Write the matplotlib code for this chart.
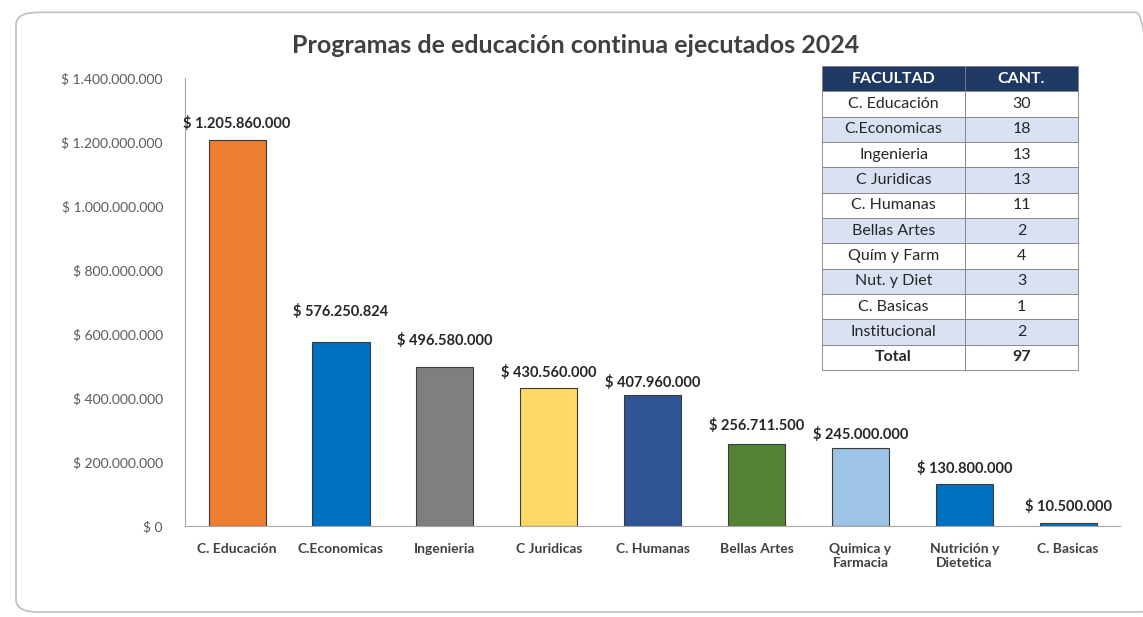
import matplotlib
matplotlib.use("Agg")
import matplotlib.pyplot as plt
from matplotlib.patches import FancyBboxPatch
from matplotlib.ticker import FuncFormatter

plt.rcParams['font.family'] = ['Lato', 'DejaVu Sans']

# datos del grafico
facultades = ["C. Educación", "C.Economicas", "Ingenieria", "C Juridicas", "C. Humanas",
              "Bellas Artes", "Quimica y\nFarmacia", "Nutrición y\nDietetica", "C. Basicas"]
valores = [1205860000, 576250824, 496580000, 430560000, 407960000,
           256711500, 245000000, 130800000, 10500000]
colores = ["#ED7D31", "#0070C0", "#7F7F7F", "#FFD966", "#2F5597",
           "#548235", "#9DC3E6", "#0070C0", "#0070C0"]

# tabla
tabla_fac = ["C. Educación", "C.Economicas", "Ingenieria", "C Juridicas", "C. Humanas",
             "Bellas Artes", "Quím y Farm", "Nut. y Diet", "C. Basicas", "Institucional", "Total"]
tabla_cant = [30, 18, 13, 13, 11, 2, 4, 3, 1, 2, 97]

# separacion de cada etiqueta sobre su barra (puntos), puestas a mano en el original
sep_etiq = [12, 21.5, 19, 11, 9.5, 13, 9.5, 11.5, 11.5]


def pesos(v):
    return "$ " + "{:,.0f}".format(v).replace(",", ".")


fig = plt.figure(figsize=(11.43, 6.17), dpi=100)
fig.patch.set_facecolor("white")

# marco redondeado tipo excel
marco = FancyBboxPatch((0.014, 0.008), 1.0, 0.972, boxstyle="round,pad=0,rounding_size=0.02",
                       transform=fig.transFigure, facecolor="none", edgecolor="#BFBFBF", lw=1.2)
fig.patches.append(marco)

ax = fig.add_axes([0.162, 0.1475, 0.818, 0.726])
x = range(len(facultades))
bars = ax.bar(x, valores, width=0.55, color=colores, edgecolor="#3A3A3A", linewidth=0.8)

for b, v, s in zip(bars, valores, sep_etiq):
    ax.annotate(pesos(v), (b.get_x() + b.get_width() / 2, v), xytext=(0, s),
                textcoords="offset points", ha="center", va="center",
                fontsize=10.5, fontweight="bold", color="#262626")

ax.set_xlim(-0.5, len(facultades) - 0.5)
ax.set_ylim(0, 1400000000)
ax.set_yticks(range(0, 1400000001, 200000000))
ax.yaxis.set_major_formatter(FuncFormatter(lambda v, p: pesos(v)))
ax.set_xticks(list(x))
ax.set_xticklabels(facultades, fontsize=10, fontweight="bold", color="#404040")
ax.tick_params(axis="y", labelsize=10, colors="#595959", length=0, pad=16)
ax.tick_params(axis="x", length=0, pad=12)
for s in ["top", "right"]:
    ax.spines[s].set_visible(False)
ax.spines["left"].set_color("#A6A6A6")
ax.spines["bottom"].set_color("#A6A6A6")

fig.text(0.504, 0.927, "Programas de educación continua ejecutados 2024",
         ha="center", va="center", fontsize=18, fontweight="bold", color="#404040")

# tabla de cantidades
tax = fig.add_axes([0.719, 0.4003, 0.224, 0.493])
tax.axis("off")
celdas = [[f, str(c)] for f, c in zip(tabla_fac, tabla_cant)]
tb = tax.table(cellText=celdas, colLabels=["FACULTAD", "CANT."], cellLoc="center",
               colWidths=[0.56, 0.44], bbox=[0, 0, 1, 1])
tb.auto_set_font_size(False)
for (r, c), cell in tb.get_celld().items():
    cell.set_edgecolor("#7F7F7F")
    cell.set_linewidth(0.6)
    cell.get_text().set_fontsize(11.5)
    if r == 0:
        cell.set_facecolor("#1F3864")
        cell.get_text().set_color("white")
        cell.get_text().set_fontweight("bold")
    else:
        cell.set_facecolor("#D9E1F2" if r % 2 == 0 else "white")
        cell.get_text().set_color("#262626")
        if r == len(celdas):
            cell.get_text().set_fontweight("bold")

fig.savefig("out.png", dpi=100)
